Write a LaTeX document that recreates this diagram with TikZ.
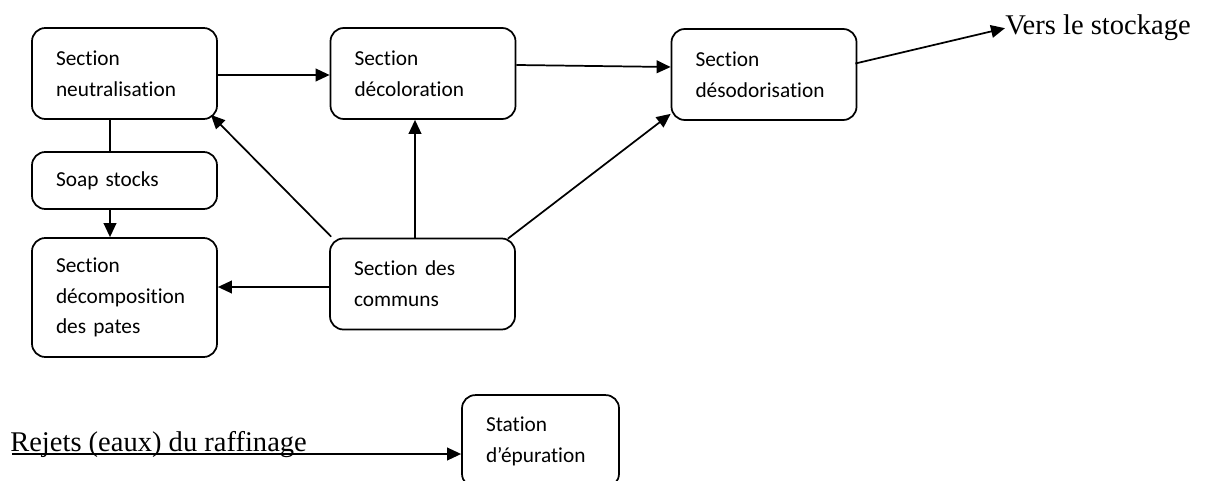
\documentclass[tikz,border=0pt]{standalone}
\usepackage{fontspec}
\setmainfont{Liberation Serif}
\newfontfamily\carlitofam[Ligatures=NoCommon]{Carlito}
\usetikzlibrary{arrows.meta,calc}
\newcommand\sectionboxfont{\carlitofam\fontsize{16}{23}\selectfont\hyphenpenalty=10000\relax}
\newcommand\plainnotefont{\fontsize{21.4}{24}\selectfont}
\tikzset{
  box/.style={draw, line width=1.3pt, rounded corners=10pt, align=left,
    inner xsep=18pt, inner ysep=0pt, text width=102.75pt, minimum height=68.25pt,
    font=\sectionboxfont},
  arr/.style={line width=1.3pt, -{Triangle[length=10.5pt,width=9.5pt]}},
  link/.style={line width=1.3pt},
  note/.style={inner sep=0pt, font=\plainnotefont},
}
\begin{document}
\begin{tikzpicture}[x=0.75pt, y=-0.75pt]
\useasboundingbox (0,0) rectangle (1205,481);

% process sections
\node[box] (neut) at (124.5,73.5) {Section\\neutralisation};
\node[box] (deco) at (423,73.5) {Section\\décoloration};
\node[box] (deso) at (764,74.5) {Section\\désodorisation};
\node[box, minimum height=42.75pt] (soap) at (124.5,180.5) {Soap stocks};
\node[box, minimum height=89.25pt] (dec) at (124.5,297.5) {Section\\décomposition\\des pates};
\node[box] (comm) at (422.5,284) {Section des\\communs};
\node[box, text width=81.75pt, minimum height=69pt, yshift=-1.2pt] (stat) at (540.5,439.5) {Station\\d’épuration};

% free labels
\node[note, anchor=base west] (stock) at (1005,35) {Vers le stockage};
\node[note, anchor=base west] (rej) at (10,451.5) {Rejets (eaux) du raffinage};

% main line
\draw[arr] ($(neut.east)+(0,1.5)$) -- ($(deco.west)+(0,1.5)$);
\draw[arr] ($(deco.east)+(0,-8.5)$) -- ($(deso.west)+(0,-7.5)$);
\draw[arr] ($(deso.east)+(-2,-11)$) -- (stock.west);

% soap stocks branch
\draw[link] ($(neut.south)+(-14.5,0)$) -- ($(soap.north)+(-14.5,0)$);
\draw[arr] ($(soap.south)+(-14.5,0)$) -- ($(dec.north)+(-14.5,0)$);

% utilities feeding the sections
\draw[arr] ($(comm.north west)+(2,-1)$) -- ($(neut.south east)+(-7,-5)$);
\draw[arr] ($(comm.north)+(-7.5,0)$) -- ($(deco.south)+(-8,0)$);
\draw[arr] ($(comm.north east)+(-8,1)$) -- ($(deso.south west)+(0,-7)$);
\draw[arr] ($(comm.west)+(0,3)$) coordinate (cw) -- (cw -| dec.east);

% waste water
\coordinate (rs) at (12,454);
\draw[arr] (rs) -- (rs -| stat.west);
\end{tikzpicture}
\end{document}
